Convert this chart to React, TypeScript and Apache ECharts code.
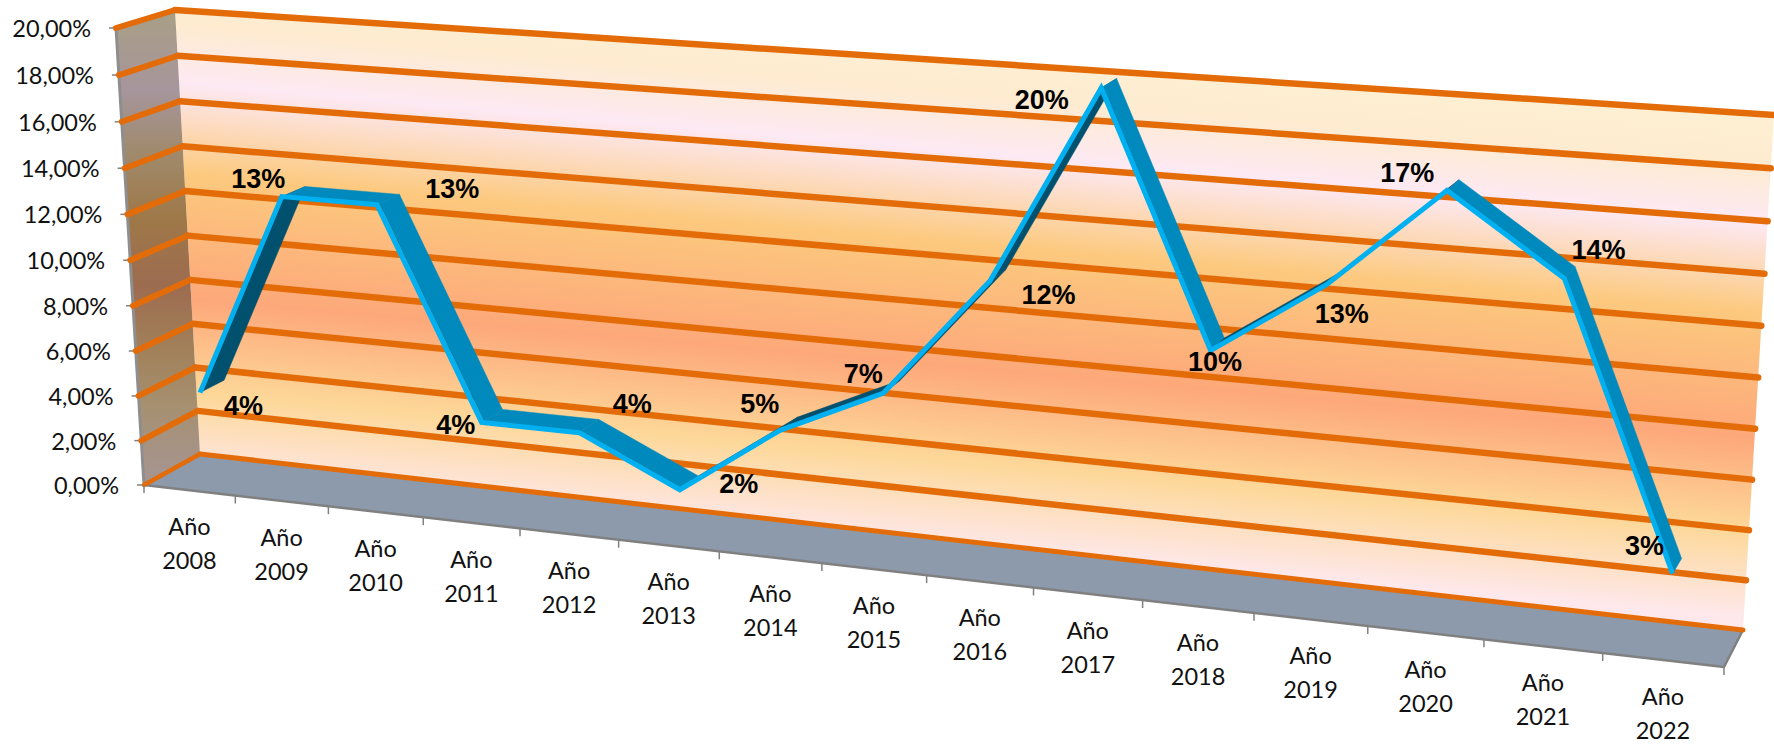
import React, { useEffect, useRef } from "react";
import * as echarts from "echarts";

const years = ["2008","2009","2010","2011","2012","2013","2014","2015","2016","2017","2018","2019","2020","2021","2022"];
const categories = years.map((y) => "Año\n" + y);
const shareValues = [4, 13, 13, 4, 4, 2, 5, 7, 12, 20, 10, 13, 17, 14, 3];
const dataLabels = ["4%","13%","13%","4%","4%","2%","5%","7%","12%","20%","10%","13%","17%","14%","3%"];
const axisValues = [0, 2, 4, 6, 8, 10, 12, 14, 16, 18, 20];
const axisLabels = ["0,00%","2,00%","4,00%","6,00%","8,00%","10,00%","12,00%","14,00%","16,00%","18,00%","20,00%"];

// manual data-label placement relative to the projected point (layout, not data)
const labelShift = [[41,15],[-26,-17],[73,-15],[-28,4],[51,-27],[57,-4],[-22,-25],[-22,-18],[57,15],[-61,13],[3,13],[14,31],[-41,-16],[33,-27],[-29,-26]];

type P = [number, number];
// box corners of the 3D scene on the page
const F00: P = [144, 485], F01: P = [116, 28], F10: P = [1724, 667], F11: P = [1752, 139];
const B00: P = [200, 454], B01: P = [175, 10], B10: P = [1743, 630], B11: P = [1774, 115];
const RIBBON_EDGE = 0.285, RIBBON_FRONT = 0.33, RIBBON_BACK = 0.72;

const lerp = (a: P, b: P, t: number): P => [a[0] + (b[0] - a[0]) * t, a[1] + (b[1] - a[1]) * t];

// unit square -> quad projective mapping
function project(u: number, v: number, w: number): P {
  const p0 = lerp(F00, B00, w), p1 = lerp(F10, B10, w), p2 = lerp(F11, B11, w), p3 = lerp(F01, B01, w);
  const dx1 = p1[0] - p2[0], dx2 = p3[0] - p2[0], sx = p0[0] - p1[0] + p2[0] - p3[0];
  const dy1 = p1[1] - p2[1], dy2 = p3[1] - p2[1], sy = p0[1] - p1[1] + p2[1] - p3[1];
  const den = dx1 * dy2 - dx2 * dy1;
  const g = (sx * dy2 - dx2 * sy) / den, h = (dx1 * sy - sx * dy1) / den;
  const a = p1[0] - p0[0] + g * p1[0], b = p3[0] - p0[0] + h * p3[0], c = p0[0];
  const d = p1[1] - p0[1] + g * p1[1], e = p3[1] - p0[1] + h * p3[1], f = p0[1];
  const q = g * u + h * v + 1;
  return [(a * u + b * v + c) / q, (d * u + e * v + f) / q];
}

function toScene(params: any, px: P, w: number): P {
  const r = params.coordSys;
  return project((px[0] - r.x) / r.width, 1 - (px[1] - r.y) / r.height, w);
}

const ORANGE = "#E36C09";
const GREY = "#808080";
const FLOOR = "#8C9AAB";

function wallGradient() {
  return new (echarts.graphic as any).LinearGradient(900, 34, 854, 555, [
    { offset: 0, color: "#FEF0D3" },
    { offset: 0.105, color: "#FEEBD0" },
    { offset: 0.215, color: "#FDE9F4" },
    { offset: 0.387, color: "#FCC97E" },
    { offset: 0.625, color: "#FDA87A" },
    { offset: 0.804, color: "#FDD899" },
    { offset: 0.97, color: "#FEE8EC" },
    { offset: 1, color: "#FEE8EC" },
  ], true);
}
function sideGradient() {
  return new (echarts.graphic as any).LinearGradient(0, 10, 0, 485, [
    { offset: 0, color: "#A99F85" },
    { offset: 0.17, color: "#A6959C" },
    { offset: 0.3, color: "#A08A6C" },
    { offset: 0.44, color: "#9E7848" },
    { offset: 0.58, color: "#9D6C50" },
    { offset: 0.72, color: "#A1815A" },
    { offset: 0.83, color: "#A69070" },
    { offset: 1, color: "#A69594" },
  ], true);
}

const renderFrame = () => ({
  type: "group",
  children: [
    { type: "polygon", shape: { points: [B00, B10, B11, B01] }, style: { fill: wallGradient() } },
    { type: "polygon", shape: { points: [F00, B00, B01, F01] }, style: { fill: sideGradient() } },
    { type: "polygon", shape: { points: [F00, F10, B10, B00] }, style: { fill: FLOOR } },
    { type: "polyline", shape: { points: [F01, F00] }, style: { stroke: "#8E8E8E", lineWidth: 3, fill: "none" } },
    { type: "polyline", shape: { points: [F00, F10, B10] }, style: { stroke: GREY, lineWidth: 2.5, fill: "none", lineJoin: "round" } },
  ],
});

const renderGridline = (params: any, api: any) => {
  const val = api.value(1);
  const py = api.coord([0, val])[1];
  const r = params.coordSys;
  const a = toScene(params, [r.x, py], 0);
  const b = toScene(params, [r.x, py], 1);
  const c = toScene(params, [r.x + r.width, py], 1);
  const lw = val === 0 ? 5 : 6.5;
  return {
    type: "group",
    children: [
      { type: "polyline", shape: { points: [[a[0] - 7, a[1]], a] }, style: { stroke: GREY, lineWidth: 1.5, fill: "none" } },
      { type: "polyline", shape: { points: [a, b] }, style: { stroke: ORANGE, lineWidth: lw - 0.5, fill: "none", lineCap: "round" } },
      { type: "polyline", shape: { points: [b, c] }, style: { stroke: ORANGE, lineWidth: lw, fill: "none", lineCap: "round" } },
      { type: "text", style: { text: axisLabels[params.dataIndex], x: a[0] - 25, y: a[1], align: "right", verticalAlign: "middle", fill: "#111111", font: "23.5px Lato" } },
    ],
  };
};

const renderCategory = (params: any, api: any) => {
  const i = params.dataIndex;
  const r = params.coordSys;
  const step = r.width / categories.length;
  const py = r.y + r.height;
  const t = toScene(params, [r.x + step * i, py], 0);
  const kids: any[] = [
    { type: "polyline", shape: { points: [t, [t[0], t[1] + 8]] }, style: { stroke: GREY, lineWidth: 1.5, fill: "none" } },
  ];
  if (i === categories.length - 1) {
    const e = toScene(params, [r.x + r.width, py], 0);
    kids.push({ type: "polyline", shape: { points: [e, [e[0], e[1] + 8]] }, style: { stroke: GREY, lineWidth: 1.5, fill: "none" } });
  }
  const c = toScene(params, api.coord([i, 0]), 0);
  kids.push({ type: "text", style: { text: categories[i], x: c[0], y: c[1] + 53, align: "center", verticalAlign: "middle", fill: "#111111", font: "23.5px Lato", lineHeight: 34 } });
  return { type: "group", children: kids };
};

const renderRibbon = (params: any, api: any) => {
  const i = params.dataIndex;
  if (i >= shareValues.length - 1) return { type: "group", children: [] };
  const a = api.coord([i, api.value(1)]);
  const b = api.coord([i + 1, shareValues[i + 1]]);
  const rising = shareValues[i + 1] > shareValues[i];
  const color = rising ? "#00506E" : "#0089BC";
  return {
    type: "polygon",
    shape: { points: [toScene(params, a, RIBBON_FRONT), toScene(params, b, RIBBON_FRONT), toScene(params, b, RIBBON_BACK), toScene(params, a, RIBBON_BACK)] },
    style: { fill: color, stroke: color, lineWidth: 0.5 },
  };
};

const renderRibbonEdge = (params: any, api: any) => {
  if (params.dataIndex > 0) return { type: "group", children: [] };
  const points = shareValues.map((v, i) => toScene(params, api.coord([i, v]), RIBBON_EDGE));
  return { type: "polyline", shape: { points }, style: { stroke: "#00B0F0", lineWidth: 5, fill: "none", lineCap: "butt", lineJoin: "miter" } };
};

const renderLabel = (params: any, api: any) => {
  const i = params.dataIndex;
  const p = toScene(params, api.coord([i, api.value(1)]), RIBBON_FRONT);
  return { type: "text", style: { text: dataLabels[i], x: p[0] + labelShift[i][0], y: p[1] + labelShift[i][1], align: "center", verticalAlign: "middle", fill: "#000000", font: "bold 27px 'Liberation Sans'" } };
};

const pairs = shareValues.map((v, i) => [i, v]);
const base = { type: "custom", coordinateSystem: "cartesian2d", clip: false, silent: true, encode: { x: 0, y: 1 } };

export default function App() {
  const ref = useRef<HTMLDivElement>(null);
  useEffect(() => {
    const chart = echarts.init(ref.current!, null, { renderer: "svg" });
    chart.setOption({
      animation: false,
      backgroundColor: "#ffffff",
      grid: { left: 150, top: 30, width: 1500, height: 600 },
      xAxis: { type: "category", data: categories, show: false },
      yAxis: { type: "value", min: 0, max: 20, interval: 2, show: false },
      series: [
        { ...base, name: "frame", data: [[0, 0]], renderItem: renderFrame, z: 1 },
        { ...base, name: "gridlines", data: axisValues.map((v) => [0, v]), renderItem: renderGridline, z: 2 },
        { ...base, name: "categories", data: categories.map((_, i) => [i, 0]), renderItem: renderCategory, z: 2 },
        { ...base, name: "ribbon", data: pairs, renderItem: renderRibbon, z: 3 },
        { ...base, name: "ribbonEdge", data: pairs, renderItem: renderRibbonEdge, z: 4 },
        { ...base, name: "labels", data: pairs, renderItem: renderLabel, z: 5 },
      ],
    });
    return () => chart.dispose();
  }, []);
  return <div ref={ref} style={{ position: "absolute", left: 0, top: 0, width: 1774, height: 747 }} />;
}
